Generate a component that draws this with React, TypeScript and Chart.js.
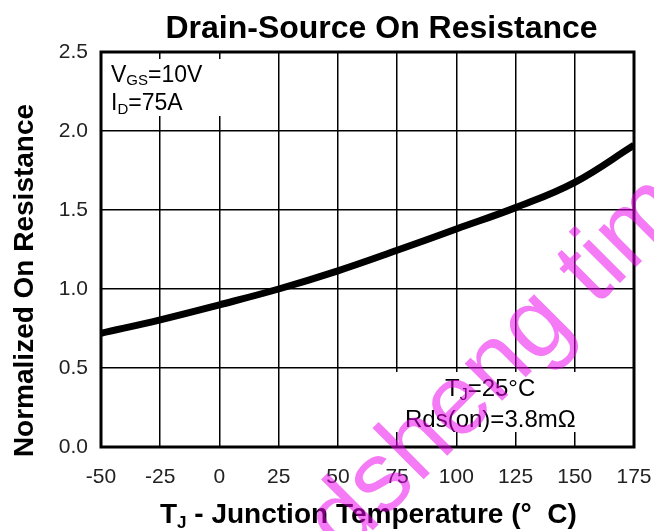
import React, { useEffect, useRef } from "react";
import { Chart, registerables } from "chart.js";

Chart.register(...registerables);

// ---- data ----
const temperatures = [-50, -25, 0, 25, 50, 75, 100, 125, 150, 175];
const normalizedRds = [0.72, 0.805, 0.9, 1.0, 1.115, 1.245, 1.38, 1.515, 1.675, 1.91];
const xTickValues = [-50, -25, 0, 25, 50, 75, 100, 125, 150, 175];
const yTickValues = [0.0, 0.5, 1.0, 1.5, 2.0, 2.5];

const chartTitle = "Drain-Source On Resistance";
const yTitle = "Normalized On Resistance";
const xTitleMain = "T";
const xTitleSub = "J";
const xTitleRest = " - Junction Temperature (°  C)";
const condLine1 = [{ t: "V" }, { t: "GS", sub: true }, { t: "=10V" }];
const condLine2 = [{ t: "I" }, { t: "D", sub: true }, { t: "=75A" }];
const noteLine1 = [{ t: "T" }, { t: "J", sub: true }, { t: "=25°C" }];
const noteLine2 = [{ t: "Rds(on)=3.8mΩ" }];
const watermark = "dsheng tim";

const FONT = '"Liberation Sans", Arial, sans-serif';

type Part = { t: string; sub?: boolean };

function drawParts(ctx: CanvasRenderingContext2D, parts: Part[], x: number, y: number, size: number, subSize: number, subDrop: number, weight = "normal") {
  let cx = x;
  for (const p of parts) {
    ctx.font = `${weight} ${p.sub ? subSize : size}px ${FONT}`;
    ctx.fillText(p.t, cx, p.sub ? y + subDrop : y);
    cx += ctx.measureText(p.t).width;
  }
}

const decorPlugin = {
  id: "decor",
  afterDatasetsDraw(chart: any) {
    const ctx: CanvasRenderingContext2D = chart.ctx;
    const a = chart.chartArea;
    ctx.save();
    // white boxes behind annotations
    ctx.fillStyle = "#ffffff";
    ctx.fillRect(a.left + 2, a.top + 7, 142, 57);
    ctx.fillRect(a.left + 294, a.top + 320, 194, 60);
    ctx.fillStyle = "#000000";
    ctx.textAlign = "left";
    ctx.textBaseline = "alphabetic";
    drawParts(ctx, condLine1, a.left + 10, a.top + 30, 23, 15, 3);
    drawParts(ctx, condLine2, a.left + 10, a.top + 58, 23, 15, 4);
    drawParts(ctx, noteLine1, a.left + 344, a.top + 344, 24, 16, 4);
    drawParts(ctx, noteLine2, a.left + 304, a.top + 375, 24, 16, 4);
    // frame
    ctx.strokeStyle = "#000";
    ctx.lineWidth = 3;
    ctx.strokeRect(a.left, a.top, a.right - a.left, a.bottom - a.top);
    ctx.restore();
  },
  afterDraw(chart: any) {
    const ctx: CanvasRenderingContext2D = chart.ctx;
    const a = chart.chartArea;
    ctx.save();
    ctx.fillStyle = "#000";
    // title
    ctx.font = `bold 32px ${FONT}`;
    ctx.textAlign = "center";
    ctx.textBaseline = "alphabetic";
    ctx.fillText(chartTitle, (a.left + a.right) / 2 + 14, 38);
    // y title
    ctx.save();
    ctx.translate(33, (a.top + a.bottom) / 2 + 31);
    ctx.rotate(-Math.PI / 2);
    ctx.font = `bold 28px ${FONT}`;
    ctx.fillText(yTitle, 0, 0);
    ctx.restore();
    // x title
    ctx.textAlign = "left";
    drawParts(ctx, [{ t: xTitleMain }, { t: xTitleSub, sub: true }, { t: xTitleRest }], 160, 523, 28, 17, 5, "bold");
    // watermark
    ctx.save();
    ctx.translate(344, 559);
    ctx.rotate(-Math.PI / 4);
    ctx.font = `100px ${FONT}`;
    ctx.fillStyle = "rgba(235,0,235,0.52)";
    ctx.fillText(watermark, 0, 0);
    ctx.restore();
    ctx.restore();
  },
};

export default function App() {
  const ref = useRef<HTMLCanvasElement | null>(null);
  useEffect(() => {
    if (!ref.current) return;
    const chart = new Chart(ref.current, {
      type: "line",
      data: {
        datasets: [
          {
            data: temperatures.map((t, i) => ({ x: t, y: normalizedRds[i] })),
            borderColor: "#000",
            borderWidth: 7,
            pointRadius: 0,
            tension: 0.4,
            fill: false,
          },
        ],
      },
      options: {
        animation: false,
        responsive: true,
        maintainAspectRatio: false,
        layout: { padding: { left: 0, top: 52, right: 20, bottom: 0 } },
        plugins: { legend: { display: false }, title: { display: false }, tooltip: { enabled: false } },
        scales: {
          x: {
            type: "linear",
            min: xTickValues[0],
            max: xTickValues[xTickValues.length - 1],
            afterBuildTicks: (s: any) => { s.ticks = xTickValues.map((v) => ({ value: v })); },
            afterFit: (s: any) => { s.height = 84; s.paddingLeft = 0; s.paddingRight = 0; },
            grid: { color: "#000", lineWidth: 1.5, drawTicks: false },
            border: { display: false },
            ticks: { color: "#222", font: { family: FONT, size: 21 }, padding: 18, maxRotation: 0, callback: (v: any) => String(v) },
          },
          y: {
            type: "linear",
            min: yTickValues[0],
            max: yTickValues[yTickValues.length - 1],
            afterBuildTicks: (s: any) => { s.ticks = yTickValues.map((v) => ({ value: v })); },
            afterFit: (s: any) => { s.width = 101; s.paddingTop = 0; s.paddingBottom = 0; },
            grid: { color: "#000", lineWidth: 1.5, drawTicks: false },
            border: { display: false },
            ticks: { color: "#222", font: { family: FONT, size: 21 }, padding: 13, callback: (v: any) => Number(v).toFixed(1) },
          },
        },
      },
      plugins: [decorPlugin],
    } as any);
    return () => chart.destroy();
  }, []);
  return (
    <div style={{ position: "absolute", left: 0, top: 0, width: 654, height: 531 }}>
      <canvas ref={ref} />
    </div>
  );
}
